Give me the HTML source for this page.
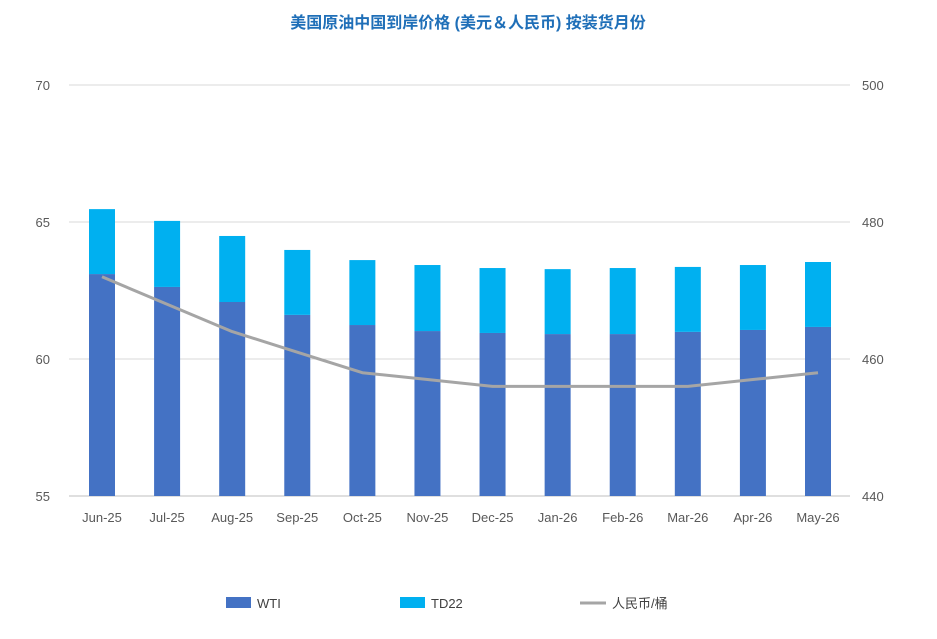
<!DOCTYPE html>
<html><head><meta charset="utf-8"><style>
body{margin:0;background:#fff;}
svg text{font-family:"Liberation Sans","Noto Sans CJK SC",sans-serif;}
</style></head><body>
<svg width="937" height="634" viewBox="0 0 937 634">
<text x="468" y="28" text-anchor="middle" font-size="16" font-weight="bold" fill="#1F6FB8">美国原油中国到岸价格 (美元＆人民币) 按装货月份</text>
<g id="grid"></g><g id="bars"></g><g id="line"></g><g id="axes"></g>
<g>
<rect x="226" y="597" width="25" height="11" fill="#4472C4"/>
<text x="257" y="608" font-size="13" fill="#404040">WTI</text>
<rect x="400" y="597" width="25" height="11" fill="#00B0F0"/>
<text x="431" y="608" font-size="13" fill="#404040">TD22</text>
<line x1="580" y1="603" x2="606" y2="603" stroke="#A5A5A5" stroke-width="3"/>
<text x="612" y="608" font-size="13" fill="#404040">人民币/桶</text>
</g>
</svg>
<script>
const categories=["Jun-25","Jul-25","Aug-25","Sep-25","Oct-25","Nov-25","Dec-25","Jan-26","Feb-26","Mar-26","Apr-26","May-26"];
const wti=[63.1,62.63,62.08,61.61,61.24,61.02,60.95,60.91,60.91,60.99,61.06,61.17];
const td22=[2.37,2.41,2.41,2.37,2.37,2.41,2.37,2.37,2.41,2.37,2.37,2.37];
const rmb=[472,468,464,461,458,457,456,456,456,456,457,458];
const leftTicks=[55,60,65,70];
const rightTicks=[440,460,480,500];
const NS="http://www.w3.org/2000/svg";
const plotL=69,plotR=850,yTop=85,yBot=496;
const yL=v=>yBot-(v-55)/15*(yBot-yTop);
const yR=v=>yBot-(v-440)/60*(yBot-yTop);
const x=i=>102+i*(818-102)/(categories.length-1);
function mk(t,a,p){const e=document.createElementNS(NS,t);for(const k in a)e.setAttribute(k,a[k]);document.getElementById(p).appendChild(e);return e;}
leftTicks.forEach(v=>{
 const g=mk("line",{x1:plotL,x2:plotR,y1:yL(v),y2:yL(v),stroke:v===55?"#BFBFBF":"#D9D9D9","stroke-width":1},"grid");
 
 
 const t=mk("text",{x:50,y:yL(v)+5,"text-anchor":"end","font-size":13,fill:"#595959"},"axes");t.textContent=v;
 
 
});
rightTicks.forEach(v=>{
 const t=mk("text",{x:862,y:yR(v)+5,"font-size":13,fill:"#595959"},"axes");t.textContent=v;
 
 
});
categories.forEach((c,i)=>{
 const bw=26;
 const b1=mk("rect",{x:x(i)-bw/2,y:yL(wti[i]),width:bw,height:yBot-yL(wti[i]),fill:"#4472C4"},"bars");
 
 
 const b2=mk("rect",{x:x(i)-bw/2,y:yL(wti[i]+td22[i]),width:bw,height:yL(wti[i])-yL(wti[i]+td22[i]),fill:"#00B0F0"},"bars");
 
 
 const t=mk("text",{x:x(i),y:522,"text-anchor":"middle","font-size":13,fill:"#595959"},"axes");t.textContent=c;
 
 
});
const pl=mk("polyline",{points:rmb.map((v,i)=>x(i)+","+yR(v)).join(" "),fill:"none",stroke:"#A5A5A5","stroke-width":3,"stroke-linejoin":"round"},"line");


</script>
</body></html>
